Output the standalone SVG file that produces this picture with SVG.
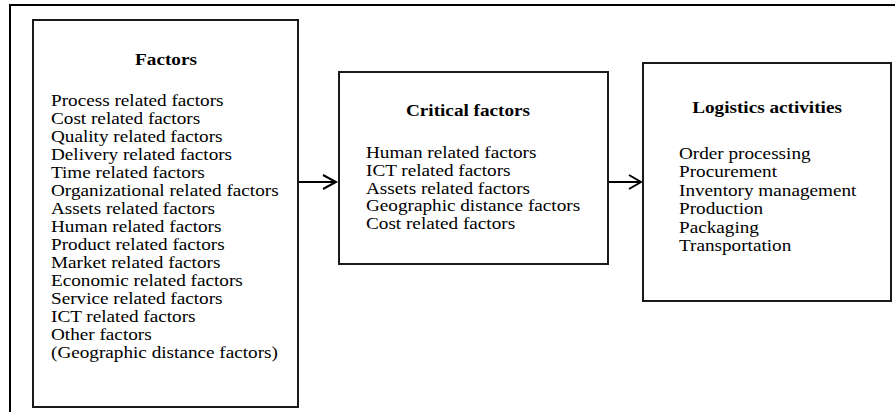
<svg xmlns="http://www.w3.org/2000/svg" width="896" height="412" viewBox="0 0 896 412">
<style>
.frame{fill:none;stroke:#000;stroke-width:2}
.box{fill:#fff;stroke:#1a1a1a;stroke-width:2}
.t{font-family:"Liberation Serif","Times New Roman",serif;font-size:16px;fill:#000}
.h{font-weight:bold;text-anchor:middle}
.conn{fill:none;stroke:#000;stroke-width:2}
</style>
<rect width="896" height="412" fill="#fff"/>
<path class="frame" d="M10,413 L10,5 L895,5"/>
<g id="factors">
<rect class="box" x="33" y="20" width="265" height="387"/>
<text class="t h" transform="translate(166,65) scale(1.2,1)">Factors</text>
<text class="t" transform="translate(51,106) scale(1.2,1)"><tspan x="0" y="0">Process related factors</tspan><tspan x="0" dy="18">Cost related factors</tspan><tspan x="0" dy="18">Quality related factors</tspan><tspan x="0" dy="18">Delivery related factors</tspan><tspan x="0" dy="18">Time related factors</tspan><tspan x="0" dy="18">Organizational related factors</tspan><tspan x="0" dy="18">Assets related factors</tspan><tspan x="0" dy="18">Human related factors</tspan><tspan x="0" dy="18">Product related factors</tspan><tspan x="0" dy="18">Market related factors</tspan><tspan x="0" dy="18">Economic related factors</tspan><tspan x="0" dy="18">Service related factors</tspan><tspan x="0" dy="18">ICT related factors</tspan><tspan x="0" dy="18">Other factors</tspan><tspan x="0" dy="18">(Geographic distance factors)</tspan></text>
</g>
<g id="critical">
<rect class="box" x="339" y="72" width="269" height="192"/>
<text class="t h" transform="translate(468,116) scale(1.2,1)">Critical factors</text>
<text class="t" transform="translate(366,158) scale(1.2,1)"><tspan x="0" y="0">Human related factors</tspan><tspan x="0" dy="17.8">ICT related factors</tspan><tspan x="0" dy="17.8">Assets related factors</tspan><tspan x="0" dy="17.8">Geographic distance factors</tspan><tspan x="0" dy="17.8">Cost related factors</tspan></text>
</g>
<g id="logistics">
<rect class="box" x="643" y="63" width="248" height="238"/>
<text class="t h" transform="translate(767,113) scale(1.2,1)">Logistics activities</text>
<text class="t" transform="translate(679,159) scale(1.2,1)"><tspan x="0" y="0">Order processing</tspan><tspan x="0" dy="18.5">Procurement</tspan><tspan x="0" dy="18.5">Inventory management</tspan><tspan x="0" dy="18.5">Production</tspan><tspan x="0" dy="18.5">Packaging</tspan><tspan x="0" dy="18.5">Transportation</tspan></text>
</g>
<g id="connectors">
<path class="conn" d="M299,182 L336,182 M323,175 L336,182 L323,189"/>
<path class="conn" d="M609,182 L641,182 M629,175 L641,182 L629,189"/>
</g>
</svg>
